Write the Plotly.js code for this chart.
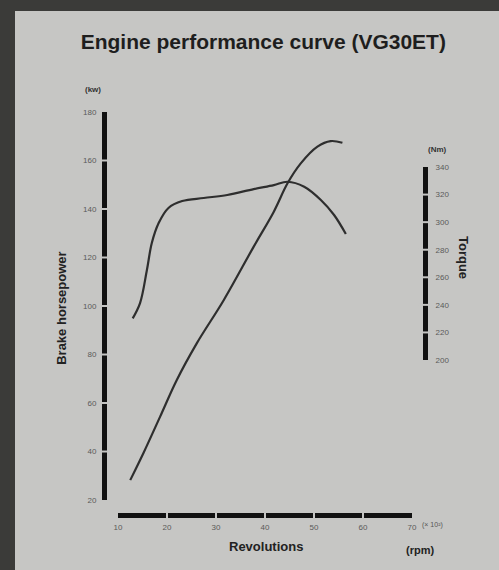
<!DOCTYPE html>
<html>
<head>
<meta charset="utf-8">
<script src="https://cdn.plot.ly/plotly-3.0.1.min.js"></script>
<style>
  html, body { margin: 0; padding: 0; background: #3b3b39; width: 499px; height: 570px; overflow: hidden; }
  #chart { position: absolute; left: 15px; top: 11px; width: 484px; height: 559px; }
</style>
</head>
<body>
<div id="chart"></div>
<script>
// Revolutions (x 100 rpm)
const powerRpm = [12.5, 15.2, 18.6, 22.0, 26.1, 31.6, 37.7, 41.8, 44.6, 47.3, 50.7, 53.4, 55.8];
// Brake horsepower (kW)
const powerKw  = [28.2, 39.4, 54.4, 69.5, 84.7, 102.5, 124.5, 138.9, 150.6, 158.8, 165.7, 168.0, 167.3];

const torqueRpm = [13.0, 14.5, 15.9, 16.9, 18.3, 20.3, 23.1, 27.5, 32.3, 37.7, 41.8, 44.6, 48.0, 51.4, 54.1, 56.5];
// Torque (Nm)
const torqueNm  = [230.2, 241.3, 265.3, 284.9, 299.4, 310.3, 315.3, 317.5, 319.7, 324.0, 326.9, 329.3, 325.7, 316.1, 305.2, 291.4];

const kwTicks = [20, 40, 60, 80, 100, 120, 140, 160, 180];
const nmTicks = [200, 220, 240, 260, 280, 300, 320, 340];
const rpmTicks = [10, 20, 30, 40, 50, 60, 70];

const paper = '#c6c6c4';
const ink = '#2e2e2e';
const FAM = 'Liberation Sans, Arial, sans-serif';
const tickFont = {family: FAM, size: 8, color: '#5a5a5a'};
const labelFont = {family: FAM, size: 13, color: '#222', weight: 'bold'};

const traces = [
  {x: powerRpm, y: powerKw, xaxis: 'x', yaxis: 'y', mode: 'lines', line: {color: ink, width: 2.2, shape: 'spline', smoothing: 1}, hoverinfo: 'skip'},
  {x: torqueRpm, y: torqueNm, xaxis: 'x', yaxis: 'y2', mode: 'lines', line: {color: ink, width: 2.2, shape: 'spline', smoothing: 1}, hoverinfo: 'skip'}
];

// small paper-coloured breaks across the thick axis bars at each tick
const shapes = [];
rpmTicks.slice(1, -1).forEach(v => shapes.push({type: 'line', layer: 'above', xref: 'x', yref: 'paper', x0: v, x1: v, y0: -0.015, y1: 0.015, line: {color: paper, width: 2}}));
kwTicks.slice(1, -1).forEach(v => shapes.push({type: 'line', layer: 'above', xref: 'paper', yref: 'y', x0: -0.02, x1: 0.02, y0: v, y1: v, line: {color: paper, width: 2}}));
nmTicks.slice(1, -1).forEach(v => shapes.push({type: 'line', layer: 'above', xref: 'paper', yref: 'y2', x0: 0.98, x1: 1.02, y0: v, y1: v, line: {color: paper, width: 2}}));

const ann = (text, x, y, font, extra) => Object.assign({text, xref: 'paper', yref: 'paper', x, y, xanchor: 'center', yanchor: 'middle', showarrow: false, font}, extra || {});

const layout = {
  width: 484, height: 559,
  paper_bgcolor: paper, plot_bgcolor: 'rgba(0,0,0,0)',
  margin: {l: 89, r: 74, t: 101, b: 55},
  showlegend: false,
  title: {text: 'Engine performance curve (VG30ET)', x: 0.513, xanchor: 'center', y: 0.945, yanchor: 'middle',
          font: {family: FAM, size: 21, color: '#1e1e1e', weight: 'bold'}},
  xaxis: {
    domain: [0.0436, 0.9595], range: [10, 70], anchor: 'free', position: 0,
    showline: true, linewidth: 5, linecolor: '#111', showgrid: false, zeroline: false,
    tickvals: rpmTicks, ticks: '', tickfont: tickFont, ticklabelstandoff: 2
  },
  yaxis: {
    domain: [0.0372, 1], range: [20, 180], anchor: 'free', position: 0,
    showline: true, linewidth: 5, linecolor: '#111', showgrid: false, zeroline: false,
    tickvals: kwTicks, ticks: '', tickfont: tickFont, ticklabelstandoff: 4
  },
  yaxis2: {
    domain: [0.3846, 0.8635], range: [200, 340], anchor: 'free', position: 1, side: 'right',
    showline: true, linewidth: 5, linecolor: '#111', showgrid: false, zeroline: false,
    tickvals: nmTicks, ticks: '', tickfont: tickFont, ticklabelstandoff: 6
  },
  shapes: shapes,
  annotations: [
    ann('(kw)', -0.034, 1.057, {family: FAM, size: 8, color: '#333', weight: 'bold'}),
    ann('(Nm)', 1.040, 0.906, {family: FAM, size: 8, color: '#333', weight: 'bold'}),
    ann('Brake horsepower', -0.131, 0.514, labelFont, {textangle: -90}),
    ann('Torque', 1.118, 0.638, labelFont, {textangle: 90}),
    ann('Revolutions', 0.505, -0.079, labelFont),
    ann('(rpm)', 0.984, -0.087, {family: FAM, size: 11, color: '#222', weight: 'bold'}),
    ann('(× 10²)', 1.022, -0.025, {family: FAM, size: 7, color: '#555'})
  ]
};

Plotly.newPlot('chart', traces, layout, {displayModeBar: false, staticPlot: true});
</script>
</body>
</html>
